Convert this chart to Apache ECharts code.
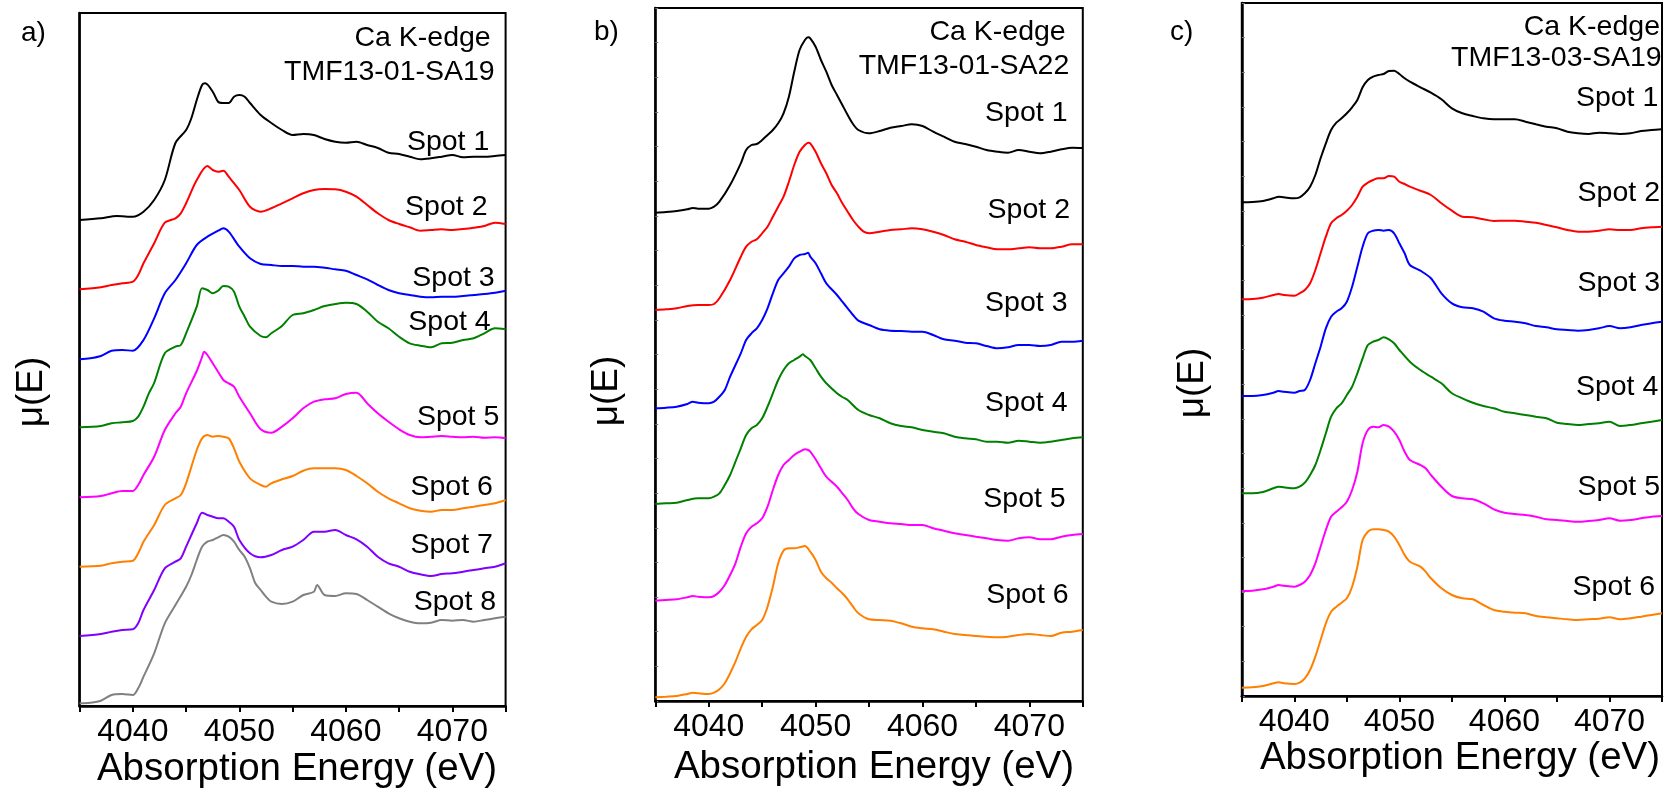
<!DOCTYPE html>
<html>
<head>
<meta charset="utf-8">
<script src="https://cdn.jsdelivr.net/npm/echarts@6/dist/echarts.min.js"></script>
<style>
  html, body { margin: 0; padding: 0; background: #fff; }
  #chart { width: 1665px; height: 793px; }
</style>
</head>
<body>
<div id="chart"></div>
<script>
// Ca K-edge XANES spectra, vertically stacked (arbitrary units), energy in eV
const energyMin = 4035;
const energyMax = 4075;
const tickLabels = ['4040', '4050', '4060', '4070'];
const spotNames = ['Spot 1', 'Spot 2', 'Spot 3', 'Spot 4', 'Spot 5', 'Spot 6', 'Spot 7', 'Spot 8'];
const spotColors = ['#000000', '#ff0000', '#0000ff', '#008000', '#ff00ff', '#ff8000', '#8000ff', '#808080'];
const sampleNames = ['TMF13-01-SA19', 'TMF13-01-SA22', 'TMF13-03-SA19'];

// a) TMF13-01-SA19
const A_spot1 = [[4035,486],[4037,487.7],[4038.5,490],[4039.5,489.3],[4040,489.3],[4041,494.3],[4042,506],[4043,526],[4044,563],[4045,576],[4045.5,588],[4046,606],[4046.5,621],[4046.8,622.7],[4047.5,614.3],[4048,604.3],[4048.5,603],[4049,603],[4049.5,609.3],[4050,611],[4050.5,609.3],[4051,603],[4052,591],[4053,583],[4054,576],[4055,571],[4056,572],[4057,571],[4058,567],[4059,564.3],[4060,563.3],[4061,564.3],[4062,561],[4063,558],[4064,553.3],[4065,552],[4066,549.3],[4067,546.7],[4068,547.7],[4069,549.3],[4070,551],[4071,548.7],[4072,549.3],[4073,549.3],[4074,550],[4075,551]];
const A_spot2 = [[4035,416.7],[4037,418.7],[4038,421],[4039,422.7],[4040,424.3],[4040.5,431],[4041,442.7],[4042,462.7],[4043,483.3],[4044,487.7],[4044.5,492.7],[4045,502.7],[4046,526],[4047,540],[4047.5,536],[4048,534.3],[4048.5,535.3],[4049,529.3],[4050,516],[4051,499.3],[4052,494.3],[4053,497.7],[4054,502.7],[4055,507.7],[4056,512.7],[4057,516],[4058,517],[4059,516.7],[4060,514.3],[4061,509.3],[4062,501],[4063,492.7],[4064,486],[4065,482],[4066,478.7],[4067,475.3],[4068,476],[4069,476.7],[4070,476],[4071,477],[4072,478.3],[4073,480],[4074,483.3],[4075,482]];
const A_spot3 = [[4035,346.7],[4036,347.7],[4037,350],[4038,355.3],[4039,356],[4040,355.3],[4041,366],[4042,387.7],[4043,412.7],[4044,426],[4045,442.7],[4046,461],[4047,469.3],[4048,475.3],[4048.5,477.7],[4049,474.3],[4050,459.3],[4051,447.7],[4052,442],[4053,441],[4054,440],[4055,440],[4056,439.3],[4057,439.3],[4058,438.3],[4059,436.7],[4060,435.3],[4061,431],[4062,426.7],[4063,421],[4064,416],[4065,412.7],[4066,411],[4067,409.3],[4068,408.7],[4069,409.3],[4070,409.3],[4071,410],[4072,411],[4073,412],[4074,413.3],[4075,415.3]];
const A_spot4 = [[4035,278.7],[4037,280],[4038,282.7],[4039,283.7],[4040,285],[4040.5,289.3],[4041,299.3],[4041.5,312.7],[4042,323],[4043,352.7],[4044,359.3],[4044.5,361],[4045,372.7],[4046,399.3],[4046.5,417.7],[4047,416],[4047.5,412.7],[4048,415.3],[4048.5,420],[4049,419.3],[4049.5,414.3],[4050,399.3],[4050.5,389.3],[4051,379.3],[4052,370],[4052.5,368.7],[4053,372.7],[4054,380],[4055,391],[4056,392.7],[4057,396],[4058,400],[4059,402],[4060,403.3],[4061,402],[4062,394.3],[4063,384.3],[4064,377.7],[4065,369.3],[4066,362.7],[4067,360.3],[4068,358.7],[4069,362.7],[4070,363.3],[4071,366],[4072,367.7],[4073,372.7],[4074,377.7],[4075,376.7]];
const A_spot5 = [[4035,208.7],[4037,210],[4038,212.7],[4039,215],[4040,215],[4040.5,221],[4041,231],[4042,249.3],[4043,276],[4044,292.7],[4044.5,299.3],[4045,312.7],[4046,335],[4046.5,349],[4046.7,354.3],[4047,351],[4047.5,342.7],[4048,334.3],[4048.5,326],[4049,322.7],[4049.5,319.3],[4050,309.3],[4051,292.7],[4052,276.7],[4053,273.3],[4054,279.3],[4055,287.7],[4056,297.7],[4057,304.3],[4058,306.7],[4059,307.7],[4060,312],[4061,313.3],[4062,302.7],[4063,292.7],[4064,284.3],[4065,276.7],[4066,271],[4067,268.7],[4068,269.3],[4069,270],[4070,269.3],[4071,268.7],[4072,269.3],[4073,268.3],[4074,268.7],[4075,267.7]];
const A_spot6 = [[4035,139.3],[4037,140.3],[4038,142.7],[4039,144.3],[4040,145.3],[4040.5,152.7],[4041,164.3],[4042,181],[4043,201],[4044,207.7],[4044.5,211],[4045,222.7],[4046,256],[4046.5,267.7],[4047,271],[4047.5,269.3],[4048,270],[4048.5,269.3],[4049,267.7],[4049.5,257.7],[4050,244.3],[4051,227.7],[4052,221],[4052.5,219.3],[4053,222.7],[4054,226.7],[4055,230],[4056,235.3],[4057,237.7],[4058,237.7],[4059,237.7],[4060,236],[4061,230],[4062,222.7],[4063,214.3],[4064,207.7],[4065,202.7],[4066,197.7],[4067,195.3],[4068,194.3],[4069,196],[4070,196],[4071,197.7],[4072,199.3],[4073,201],[4074,202.7],[4075,206]];
const A_spot7 = [[4035,70],[4037,72],[4038,74.3],[4039,76],[4040,76.7],[4040.5,82.7],[4041,96],[4042,116],[4043,137.7],[4044,144.3],[4044.5,147.7],[4045,159.3],[4046,182.7],[4046.5,193.3],[4047,191],[4047.5,189.3],[4048,187.7],[4048.5,187.7],[4049,184.3],[4049.5,179.3],[4050,166],[4051,152.7],[4052,148.7],[4053,151],[4054,156],[4055,159.3],[4056,166],[4057,174.3],[4058,174.3],[4059,176],[4060,171],[4061,166.7],[4062,159.3],[4063,149.3],[4064,142.7],[4065,139.3],[4066,134.3],[4067,131.7],[4068,130],[4069,132],[4070,132.7],[4071,134.3],[4072,136],[4073,137.7],[4074,139.3],[4075,142.7]];
const A_spot8 = [[4035,2.7],[4036,3.3],[4037,5.3],[4038,11],[4039,12],[4040,11],[4040.5,17.7],[4041,29.3],[4042,52.7],[4043,82.7],[4044,101],[4045,119.3],[4045.5,131],[4046,146],[4046.5,159.3],[4047,164.3],[4047.5,166],[4048,168.7],[4048.5,171],[4049,169.3],[4049.5,164.3],[4050,156],[4050.5,149.3],[4051,137.7],[4051.5,122.7],[4052,116],[4052.5,109.3],[4053,104.3],[4054,102],[4055,104.3],[4056,111],[4057,114.3],[4057.3,121],[4058,111],[4059,110],[4060,112.7],[4061,112],[4062,106],[4063,99.3],[4064,92.7],[4065,87.7],[4066,84.3],[4067,82.7],[4068,83.3],[4069,86],[4070,85.3],[4071,86],[4072,84.3],[4073,86],[4074,87.7],[4075,89.3]];

// b) TMF13-01-SA22
const B_spot1 = [[4035,488.3],[4036,489],[4037,490],[4038,491.7],[4038.5,493],[4039,492.3],[4040,492.3],[4040.5,494.3],[4041,499.3],[4042,516],[4043,537.7],[4043.5,551],[4044,556],[4044.5,557],[4045,561],[4045.5,566],[4046,571],[4046.5,577.7],[4047,587.7],[4047.5,604.3],[4048,629.3],[4048.5,651],[4049,661],[4049.3,663.7],[4049.5,662.7],[4050,654.3],[4050.5,641],[4051,629.3],[4051.5,616],[4052,606],[4052.5,596],[4053,586],[4053.5,577],[4054,571],[4055,567.7],[4056,570],[4057,573.3],[4058,575],[4059,576.7],[4060,575],[4061,569.3],[4062,564.3],[4063,559.3],[4064,557],[4065,554.3],[4066,551],[4067,549.3],[4068,548.3],[4069,551],[4070,549.3],[4071,547.7],[4072,549.3],[4073,551.7],[4074,553.3],[4075,553]];
const B_spot2 = [[4035,391],[4036,391.7],[4037,392.7],[4038,395],[4039,396],[4040,396],[4040.5,397],[4041,402.7],[4042,421],[4043,444.3],[4043.5,454.3],[4044,459.3],[4044.5,461.7],[4045,467.7],[4045.5,474.3],[4046,484.3],[4046.5,494.3],[4047,504.3],[4047.5,519.3],[4048,536],[4048.5,549.3],[4049,556],[4049.3,558.3],[4049.5,557.7],[4050,549.3],[4050.5,537.7],[4051,527.7],[4051.5,516],[4052,507.7],[4052.5,497.7],[4053,489.3],[4053.5,481],[4054,474.3],[4054.5,469.3],[4055,467.7],[4056,469.3],[4057,471],[4058,471.7],[4059,472.7],[4060,471.7],[4061,469.3],[4062,466],[4063,461.7],[4064,459.3],[4065,456],[4066,453.7],[4067,451.7],[4068,451.7],[4069,452.7],[4070,453.7],[4071,452.7],[4072,452.7],[4073,454.3],[4074,456.7],[4075,456.7]];
const B_spot3 = [[4035,292.7],[4036,293.3],[4037,294.3],[4038,297],[4038.5,299.3],[4039,298.3],[4040,297.7],[4040.5,299.3],[4041,304.3],[4041.5,311],[4042,324.3],[4043,347.7],[4043.5,361],[4044,367.7],[4044.5,372.7],[4045,381],[4045.5,392.7],[4046,407.7],[4046.5,421],[4047,427.7],[4047.5,434.3],[4048,442.7],[4048.5,446],[4049,447],[4049.3,448.3],[4049.5,444.3],[4050,437.7],[4050.5,427.7],[4051,417.7],[4052,406],[4052.5,399.3],[4053,392.7],[4053.5,386],[4054,380.3],[4055,376],[4056,371.7],[4057,370.3],[4058,370],[4059,369.3],[4060,369.3],[4061,366],[4062,361.7],[4063,360.3],[4064,358.3],[4065,357.7],[4066,355],[4067,352.7],[4068,353.7],[4069,356],[4070,356],[4071,355],[4072,356],[4073,359.3],[4074,359.3],[4075,360.3]];
const B_spot4 = [[4035,197],[4036,197.7],[4037,198.3],[4038,201],[4039,202.7],[4040,202.7],[4040.5,204.3],[4041,207.7],[4041.5,216],[4042,226],[4042.5,239.3],[4043,252.7],[4043.5,266],[4044,272.7],[4044.5,276],[4045,282.7],[4045.5,294.3],[4046,307.7],[4046.5,321],[4047,331],[4047.5,337.7],[4048,341],[4048.5,344.3],[4048.8,346.7],[4049,345],[4049.5,341],[4050,332.7],[4050.5,324.3],[4051,317.7],[4052,307.7],[4052.5,304],[4053,301],[4054,291],[4055,286],[4056,282.7],[4057,277.7],[4058,275],[4059,273.7],[4060,271],[4061,269.3],[4062,267.7],[4063,264.3],[4064,262.7],[4065,261.7],[4066,259.3],[4067,259.3],[4068,258.3],[4069,260.3],[4070,259.3],[4071,258.3],[4072,259.3],[4073,261],[4074,262.7],[4075,263.7]];
const B_spot5 = [[4035,100.3],[4036,101],[4037,101.7],[4038,103.7],[4038.5,105],[4039,104.3],[4040,103.7],[4040.5,105],[4041,109.3],[4041.5,116],[4042,126],[4042.5,137.7],[4043,154.3],[4043.5,167.7],[4044,174.3],[4044.5,177.7],[4045,182.7],[4045.5,194.3],[4046,211],[4046.5,226],[4047,236],[4047.5,241],[4048,246],[4048.5,249.3],[4049,251.7],[4049.3,251],[4049.5,249.3],[4050,241.7],[4050.5,232.7],[4051,224.3],[4051.5,219.3],[4052,214.3],[4052.5,207.7],[4053,201],[4053.5,192.7],[4054,187],[4055,181],[4056,179.3],[4057,177.7],[4058,177],[4059,176],[4060,176],[4061,172.7],[4062,170.3],[4063,167.7],[4064,166],[4065,164.3],[4066,162.7],[4067,161],[4068,160.3],[4069,162.7],[4070,163.7],[4071,161.7],[4072,161.7],[4073,164.3],[4074,166],[4075,167]];
const B_spot6 = [[4035,3.7],[4036,4.3],[4037,5],[4038,7],[4038.5,8.3],[4039,7.7],[4040,7],[4040.5,8.3],[4041,11.7],[4041.5,17.7],[4042,27.7],[4042.5,39.3],[4043,52.7],[4043.5,64.3],[4044,71.7],[4044.5,76],[4045,81],[4045.5,94.3],[4046,114.3],[4046.5,137.7],[4047,150.3],[4047.5,152.7],[4048,152.7],[4048.5,153.7],[4049,155],[4049.5,149.3],[4050,141],[4050.5,129.3],[4051,122.7],[4051.5,118.3],[4052,112.7],[4052.5,107.7],[4053,101.7],[4053.5,94.3],[4054,87.7],[4055,81.7],[4056,81],[4057,80.3],[4058,77.7],[4059,74.3],[4060,72.7],[4061,71.7],[4062,69.3],[4063,67],[4064,66],[4065,65],[4066,64.3],[4067,63.7],[4068,64.3],[4069,66],[4070,67],[4071,66],[4072,65],[4073,68.3],[4074,69.3],[4075,71]];

// c) TMF13-03-SA19
const C_spot1 = [[4035,493.7],[4036,494],[4037,495],[4038,497.7],[4038.5,499.3],[4039,498.7],[4040,497.7],[4040.5,498.7],[4041,502.7],[4041.5,509.3],[4042,521],[4042.5,537.7],[4043,552.7],[4043.5,566],[4044,573.3],[4044.5,577.7],[4045,582.7],[4045.5,588.7],[4046,596],[4046.5,608.7],[4047,616],[4047.5,619.3],[4048,621],[4048.5,622],[4049,625],[4049.5,625.3],[4050,622],[4050.5,617.7],[4051,614.3],[4052,608.7],[4053,603.3],[4054,596.7],[4055,587.7],[4056,582.7],[4057,580],[4058,577.7],[4059,576.7],[4060,576.7],[4061,576.7],[4062,574.3],[4063,571.7],[4064,569.3],[4065,567.7],[4066,564.3],[4067,562.7],[4068,562],[4069,563.3],[4070,562.7],[4071,562],[4072,562.7],[4073,565],[4074,566],[4075,566.7]];
const C_spot2 = [[4035,396.7],[4036,397],[4037,398.3],[4038,401],[4038.5,402],[4039,401],[4040,400.3],[4040.5,402.7],[4041,406],[4041.5,412.7],[4042,426],[4042.5,442.7],[4043,459.3],[4043.5,472.7],[4044,477.7],[4044.5,481],[4045,485.3],[4045.5,491],[4046,499.3],[4046.5,509.3],[4047,513.3],[4047.5,516],[4048,517.7],[4048.5,517.7],[4049,520],[4049.5,519.3],[4050,514.3],[4050.5,512],[4051,509.3],[4052,505.3],[4053,501],[4054,492.7],[4055,485.3],[4056,479.3],[4057,478.7],[4058,476.7],[4059,475],[4060,475.3],[4061,475.3],[4062,474.3],[4063,473.3],[4064,471],[4065,468.7],[4066,466],[4067,464.3],[4068,464.3],[4069,465.3],[4070,466.7],[4071,466],[4072,466],[4073,467.7],[4074,468.7],[4075,469.3]];
const C_spot3 = [[4035,300],[4036,300],[4037,301],[4038,303.3],[4038.5,305],[4039,304.3],[4040,303.3],[4040.5,305],[4041,306],[4041.5,316],[4042,332.7],[4042.5,349.3],[4043,367.7],[4043.5,379.3],[4044,384.3],[4044.5,387.7],[4045,394.3],[4045.5,409.3],[4046,429.3],[4046.5,449.3],[4047,462.7],[4047.5,465.3],[4048,466],[4048.5,465.3],[4049,466],[4049.5,462.7],[4050,452.7],[4050.5,442.7],[4051,431],[4052,425.3],[4053,417.7],[4054,402.7],[4055,392.7],[4056,388.7],[4057,387.7],[4058,384.3],[4059,377.7],[4060,375.3],[4061,374.3],[4062,372.7],[4063,370],[4064,368.7],[4065,366.7],[4066,366],[4067,365.3],[4068,366],[4069,367.7],[4070,370],[4071,367.7],[4072,368.7],[4073,371],[4074,372.7],[4075,374.3]];
const C_spot4 = [[4035,202.7],[4036,202.7],[4037,204],[4038,207.7],[4038.5,209.3],[4039,208.7],[4040,207.7],[4040.5,209.3],[4041,213.3],[4041.5,221],[4042,231],[4042.5,246],[4043,262.7],[4043.5,279.3],[4044,287.7],[4044.5,292.7],[4045,301],[4045.5,309.3],[4046,322.7],[4046.5,337.7],[4047,351],[4047.5,354.3],[4048,356],[4048.5,358.7],[4049,356.7],[4049.5,352.7],[4050,346],[4051,334.3],[4052,326],[4053,319.3],[4054,312.7],[4055,302.7],[4056,297.7],[4057,293.3],[4058,290],[4059,287.7],[4060,284.3],[4061,282.7],[4062,281],[4063,279.3],[4064,277.7],[4065,273.3],[4066,272],[4067,271],[4068,272],[4069,272.7],[4070,274.3],[4071,270],[4072,271],[4073,272.7],[4074,274.3],[4075,276]];
const C_spot5 = [[4035,105],[4036,105.3],[4037,106.7],[4038,109.3],[4038.5,111],[4039,110.3],[4040,109.3],[4040.5,111],[4041,114.3],[4041.5,121],[4042,132.7],[4042.5,149.3],[4043,166],[4043.5,179.3],[4044,184.3],[4044.5,188.7],[4045,194.3],[4045.5,206],[4046,224.3],[4046.5,252.7],[4047,266],[4047.5,269.3],[4048,268.7],[4048.5,271],[4049,269.3],[4049.5,264.3],[4050,256],[4050.5,244.3],[4051,236],[4052,231],[4052.5,227.7],[4053,221],[4054,209.3],[4055,200],[4056,197.7],[4057,196.7],[4058,192.7],[4059,186.7],[4060,183.3],[4061,182],[4062,181],[4063,179.3],[4064,176.7],[4065,176],[4066,175],[4067,174.3],[4068,175],[4069,176],[4070,177.7],[4071,175.3],[4072,176],[4073,177.7],[4074,179.3],[4075,180]];
const C_spot6 = [[4035,8.3],[4036,8.7],[4037,10],[4038,12.7],[4038.5,13.7],[4039,12.7],[4040,12],[4040.5,13.3],[4041,17.7],[4041.5,26],[4042,39.3],[4042.5,56],[4043,72.7],[4043.5,84.3],[4044,89.3],[4044.5,93.3],[4045,97.7],[4045.5,109.3],[4046,129.3],[4046.5,156],[4047,164.3],[4047.5,166.7],[4048,166.7],[4048.5,166],[4049,164.3],[4049.5,159.3],[4050,151],[4050.5,141],[4051,134.3],[4052,129.3],[4052.5,124.3],[4053,117.7],[4054,107.7],[4055,101],[4056,97.7],[4057,96.7],[4058,91],[4059,86],[4060,84.3],[4061,83.3],[4062,82.7],[4063,80],[4064,78.7],[4065,77.7],[4066,76.7],[4067,76],[4068,76.7],[4069,77.3],[4070,78.7],[4071,76.7],[4072,77.7],[4073,79.3],[4074,81],[4075,82.7]];

const panelSpectra = [
  [A_spot1, A_spot2, A_spot3, A_spot4, A_spot5, A_spot6, A_spot7, A_spot8],
  [B_spot1, B_spot2, B_spot3, B_spot4, B_spot5, B_spot6],
  [C_spot1, C_spot2, C_spot3, C_spot4, C_spot5, C_spot6]
];

const FONT = '"Liberation Sans", Arial, sans-serif';
const Y_MAX = 693;
const TICK_SIZE = 32, TITLE_SIZE = 38.5, NOTE_SIZE = 28.5, LETTER_SIZE = 28;

// panel frames (px) and annotation anchors (px)
const panels = [
  { left: 79.6, top: 13, width: 426, yTicks: false,
    letter: ['a)', 21, 33], yName: [32, 392], xName: [297, 769],
    notes: [[490.7, 37.7], [494.7, 71.7]],
    spots: [[489.3, 141.7], [487.5, 207], [494.7, 277.7], [490.7, 321.7], [499.3, 416.7], [492.9, 486.7], [492.9, 545], [496.1, 601.7]] },
  { left: 655.3, top: 8, width: 427.5, yTicks: true,
    letter: ['b)', 594, 32], yName: [607, 391], xName: [874, 767],
    notes: [[1065.7, 31.7], [1069.3, 66]],
    spots: [[1067.5, 113.3], [1070, 210], [1067.5, 303.3], [1067.5, 403.3], [1065.7, 499.3], [1068.6, 595]] },
  { left: 1241.8, top: 3, width: 425.1, yTicks: true,
    letter: ['c)', 1170, 32], yName: [1193, 383], xName: [1460, 758],
    notes: [[1660, 26.7], [1661.7, 58.3]],
    spots: [[1658.3, 98.3], [1660, 192.7], [1660, 283.3], [1658.3, 386.7], [1660, 487.3], [1655, 586.7]] }
];

const grid = [], xAxis = [], yAxis = [], series = [], graphic = [];

function txt(x, y, text, size, align, extra) {
  return Object.assign({
    type: 'text', x: x, y: y, silent: true,
    style: { text: text, fill: '#000', fontSize: size, fontFamily: FONT, align: align, verticalAlign: 'middle' }
  }, extra || {});
}

panels.forEach(function (p, i) {
  grid.push({ left: p.left, top: p.top, width: p.width, height: Y_MAX,
    show: true, borderColor: '#000', borderWidth: 2, backgroundColor: 'transparent' });
  xAxis.push({
    gridIndex: i, type: 'value', min: energyMin, max: energyMax, interval: 5,
    axisLine: { lineStyle: { color: '#000', width: 2.5 } },
    axisTick: { show: true, length: 6, lineStyle: { color: '#000', width: 2 } },
    axisLabel: {
      color: '#000', fontSize: TICK_SIZE, fontFamily: FONT, margin: 10,
      showMinLabel: true, showMaxLabel: true,
      formatter: function (v) { const s = String(v); return tickLabels.indexOf(s) >= 0 ? s : ''; }
    },
    splitLine: { show: false }
  });
  yAxis.push({
    gridIndex: i, type: 'value', min: 0, max: Y_MAX, interval: Y_MAX / 20,
    axisLine: { show: true, lineStyle: { color: '#000', width: 2.5 } },
    axisTick: { show: p.yTicks, inside: true, length: 3, lineStyle: { color: '#777', width: 1 } },
    axisLabel: { show: false },
    splitLine: { show: false }
  });
  panelSpectra[i].forEach(function (data, k) {
    series.push({
      type: 'line', name: sampleNames[i] + ' ' + spotNames[k],
      xAxisIndex: i, yAxisIndex: i, data: data,
      showSymbol: false, smooth: 0.3, animation: false,
      lineStyle: { color: spotColors[k], width: 2 }, z: 3
    });
    graphic.push(txt(p.spots[k][0], p.spots[k][1], spotNames[k], NOTE_SIZE, 'right'));
  });
  graphic.push(txt(p.notes[0][0], p.notes[0][1], 'Ca K-edge', NOTE_SIZE, 'right'));
  graphic.push(txt(p.notes[1][0], p.notes[1][1], sampleNames[i], NOTE_SIZE, 'right'));
  graphic.push(txt(p.letter[1], p.letter[2], p.letter[0], LETTER_SIZE, 'left'));
  graphic.push(txt(p.xName[0], p.xName[1], 'Absorption Energy (eV)', TITLE_SIZE, 'center'));
  graphic.push(txt(p.yName[0], p.yName[1], 'μ(E)', 37, 'center', { rotation: Math.PI / 2 }));
});

const chart = echarts.init(document.getElementById('chart'), null, { renderer: 'canvas' });
chart.setOption({
  animation: false,
  backgroundColor: '#ffffff',
  grid: grid, xAxis: xAxis, yAxis: yAxis, series: series,
  graphic: { elements: graphic }
});
</script>
</body>
</html>
